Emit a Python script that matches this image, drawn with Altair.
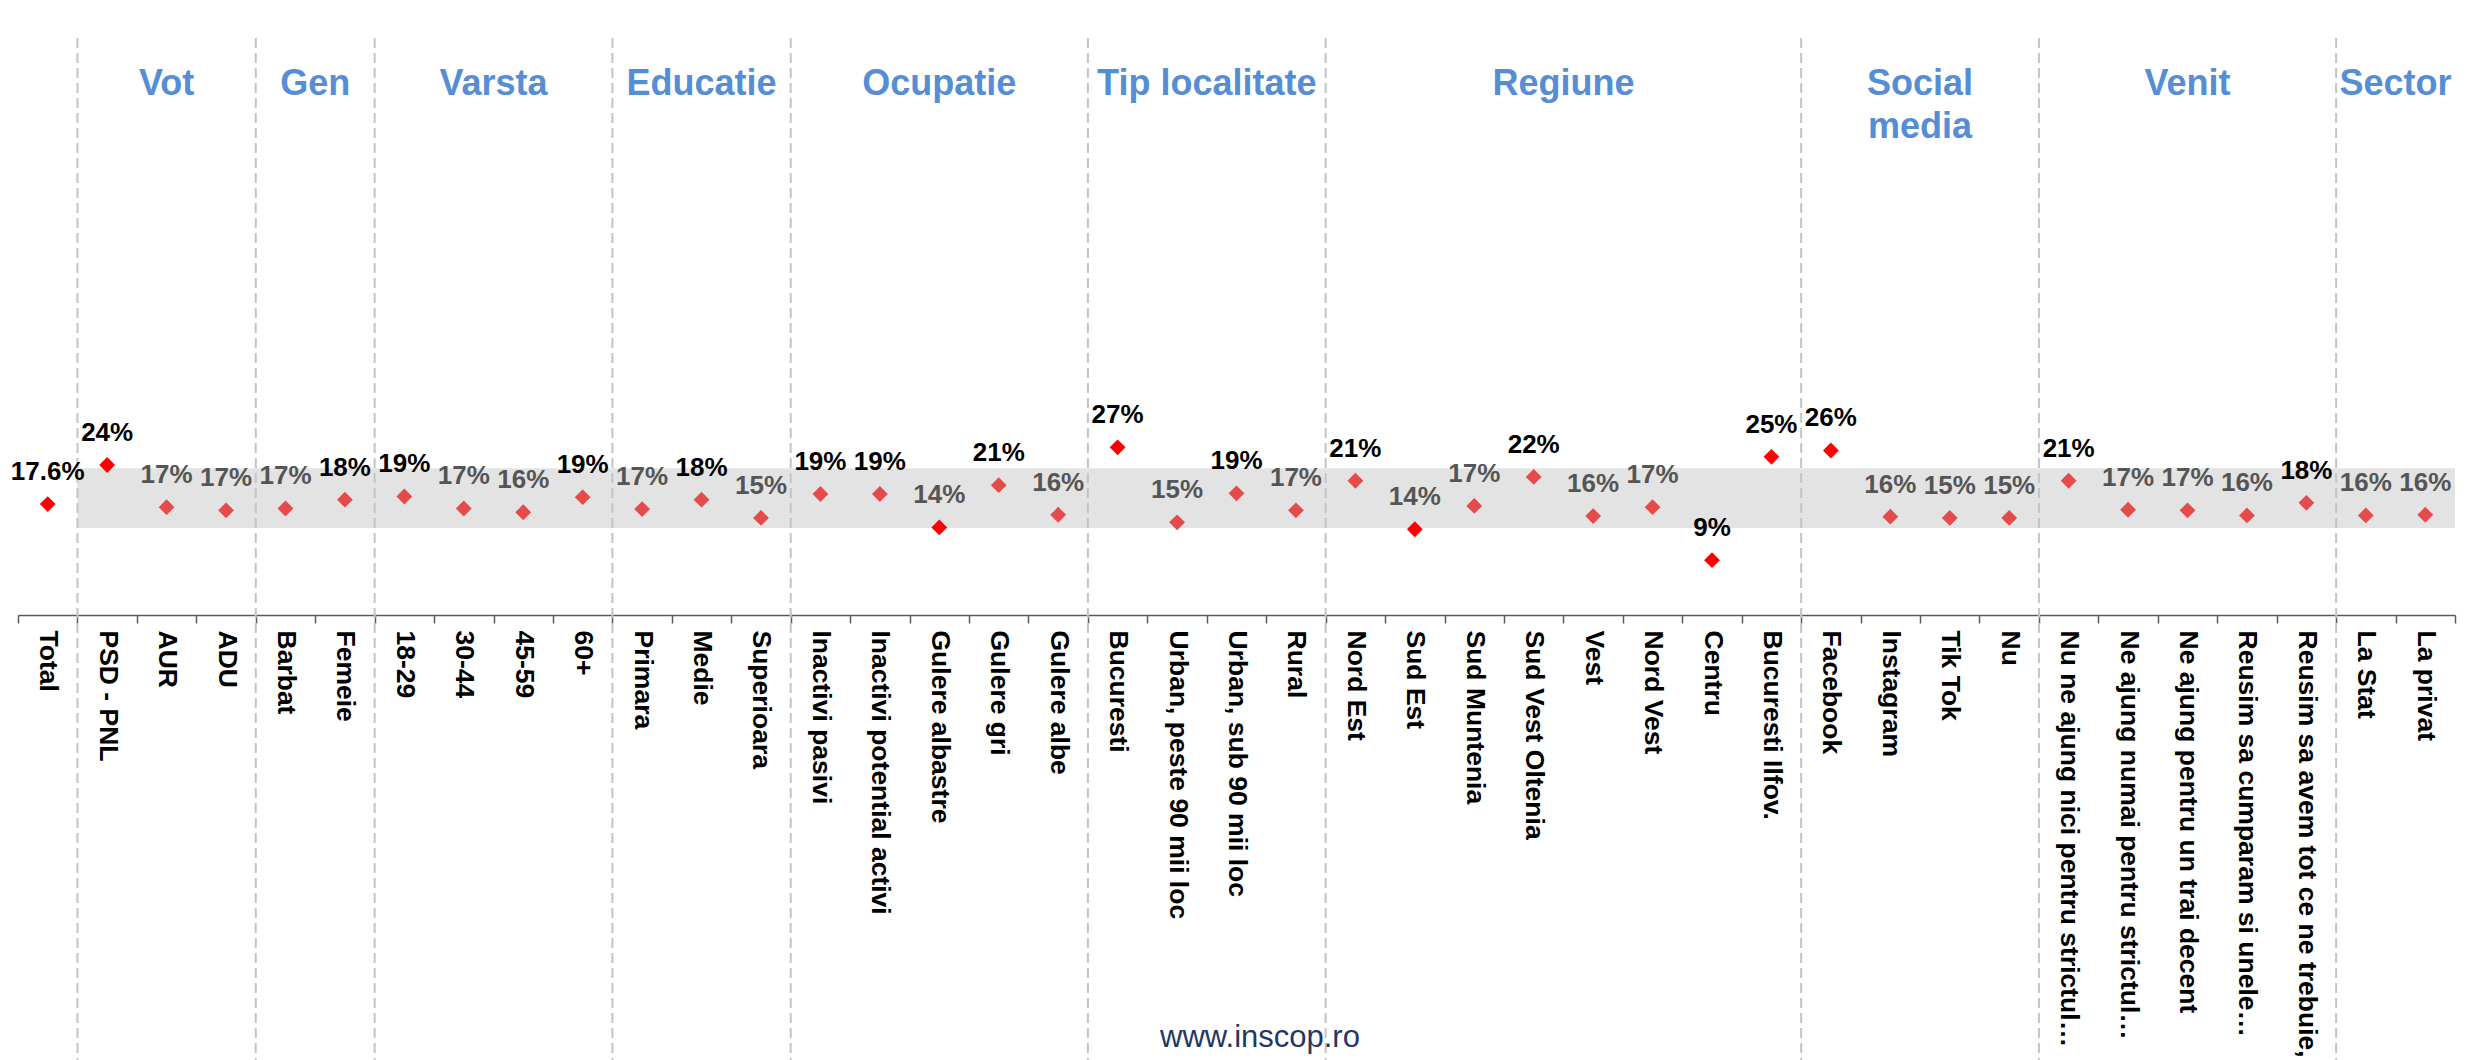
import altair as alt
import pandas as pd

# ---------------- data ----------------
categories = [
    "Total",
    "PSD - PNL", "AUR", "ADU",
    "Barbat", "Femeie",
    "18-29", "30-44", "45-59", "60+",
    "Primara", "Medie", "Superioara",
    "Inactivi pasivi", "Inactivi potential activi", "Gulere albastre", "Gulere gri", "Gulere albe",
    "Bucuresti", "Urban, peste 90 mii loc", "Urban, sub 90 mii loc", "Rural",
    "Nord Est", "Sud Est", "Sud Muntenia", "Sud Vest Oltenia", "Vest", "Nord Vest", "Centru", "Bucuresti Ilfov.",
    "Facebook", "Instagram", "Tik Tok", "Nu",
    "Nu ne ajung nici pentru strictul…", "Ne ajung numai pentru strictul…", "Ne ajung pentru un trai decent",
    "Reusim sa cumparam si unele…", "Reusim sa avem tot ce ne trebuie,",
    "La Stat", "La privat",
]

values = [
    17.6,
    23.8, 17.1, 16.6,
    16.9, 18.3,
    18.8, 16.9, 16.3, 18.7,
    16.8, 18.3, 15.4,
    19.2, 19.2, 13.9, 20.6, 15.9,
    26.6, 14.7, 19.3, 16.6,
    21.3, 13.6, 17.3, 21.9, 15.7, 17.1, 8.7, 25.1,
    26.1, 15.6, 15.4, 15.4,
    21.3, 16.7, 16.6, 15.8, 17.8,
    15.8, 15.9,
]

# statistically different from total (marker highlighted)
significant = [
    "Total", "PSD - PNL", "Gulere albastre", "Bucuresti", "Sud Est", "Centru",
    "Bucuresti Ilfov.", "Facebook",
]

# labels shown in black besides the above-total ones
emphasis_extra = ["Total", "Centru"]

groups = ["", "Vot", "Gen", "Varsta", "Educatie", "Ocupatie", "Tip localitate",
          "Regiune", "Social media", "Venit", "Sector"]
group_sizes = [1, 3, 2, 4, 3, 5, 4, 8, 4, 5, 2]

band_low = 13.8
band_high = 23.3
total_value = values[0]
footer = "www.inscop.ro"

# ---------------- tables ----------------
def fmt(cat, v):
    return f"{v:.1f}%" if cat == "Total" else f"{int(v + 0.5)}%"

df = pd.DataFrame({
    "cat": categories,
    "val": values,
    "label": [fmt(c, v) for c, v in zip(categories, values)],
    "sig": ["da" if c in significant else "nu" for c in categories],
    "lab": ["tare" if (v > total_value or c in emphasis_extra) else "slab"
            for c, v in zip(categories, values)],
})

starts = []
s = 0
for n in group_sizes:
    starts.append(s)
    s += n
n_cat = s

titles_df = pd.DataFrame({
    "g": [g for g in groups if g],
    "xc": [st + n / 2 for g, st, n in zip(groups, starts, group_sizes) if g],
})
titles_df["txt"] = titles_df["g"].str.replace(" media", "\nmedia")

div_df = pd.DataFrame({"cat": [categories[st] for st in starts[1:]]})

band_df = pd.DataFrame({"x": [starts[1]], "x2": [n_cat], "lo": [band_low], "hi": [band_high]})

FONT = "Liberation Sans"
W, H = 2437, 607
ymax = 96.3

xq = alt.Scale(domain=[0, n_cat], nice=False, zero=False)
xn = alt.Scale(domain=categories, paddingInner=0, paddingOuter=0)
ys = alt.Scale(domain=[0, ymax], nice=False, zero=True)

band = alt.Chart(band_df).mark_rect(color="#E3E3E3").encode(
    x=alt.X("x:Q", scale=xq, axis=None),
    x2="x2:Q",
    y=alt.Y("lo:Q", scale=ys, axis=None),
    y2="hi:Q",
)

dividers = alt.Chart(div_df).mark_rule(
    color="#C4C4C4", strokeWidth=2, strokeDash=[10, 5]
).encode(
    x=alt.X("cat:N", scale=xn, axis=None, bandPosition=0),
    y=alt.value(30),
    y2=alt.value(1052),
)

points = alt.Chart(df).mark_point(
    shape="diamond", filled=True, size=250, opacity=1
).encode(
    x=alt.X("cat:N", scale=xn, sort=categories, title=None, axis=alt.Axis(
        labelAngle=90, labelAlign="left", labelBaseline="middle",
        labelFont=FONT, labelFontSize=26.5, labelFontWeight="bold", labelColor="#000000",
        labelLimit=700, labelOverlap=False, labelPadding=7,
        tickSize=8, tickBand="extent", tickColor="#595959", tickWidth=1.5,
        domainColor="#595959", domainWidth=1.5, grid=False,
    )),
    y=alt.Y("val:Q", scale=ys, axis=None),
    color=alt.Color("sig:N", scale=alt.Scale(domain=["da", "nu"], range=["#FF0000", "#E64B4B"]), legend=None),
)

labels = alt.Chart(df).mark_text(
    font=FONT, fontSize=26, fontWeight="bold", dy=-32, baseline="middle", align="center"
).encode(
    x=alt.X("cat:N", scale=xn, axis=None),
    y=alt.Y("val:Q", scale=ys, axis=None),
    text="label:N",
    color=alt.Color("lab:N", scale=alt.Scale(domain=["tare", "slab"], range=["#000000", "#555555"]), legend=None),
)

titles = alt.Chart(titles_df).mark_text(
    font=FONT, fontSize=36, fontWeight="bold", color="#558ED5",
    baseline="middle", align="center", lineBreak="\n", lineHeight=43,
).encode(
    x=alt.X("xc:Q", scale=xq, axis=None),
    y=alt.value(76),
    text="txt:N",
)

foot = alt.Chart(pd.DataFrame({"t": [footer]})).mark_text(
    font=FONT, fontSize=31, color="#1F3864", align="center", baseline="alphabetic",
).encode(
    x=alt.value(1242),
    y=alt.value(1039),
    text="t:N",
)

chart = alt.layer(band, dividers, points, labels, titles, foot).resolve_scale(
    x="independent", color="independent"
).properties(
    width=W, height=H,
    autosize=alt.AutoSizeParams(type="none"),
    padding={"left": 10, "top": 0, "right": 10, "bottom": 445},
).configure_view(stroke=None)

chart.save("out.html", embed_options={"renderer": "svg", "actions": False})
